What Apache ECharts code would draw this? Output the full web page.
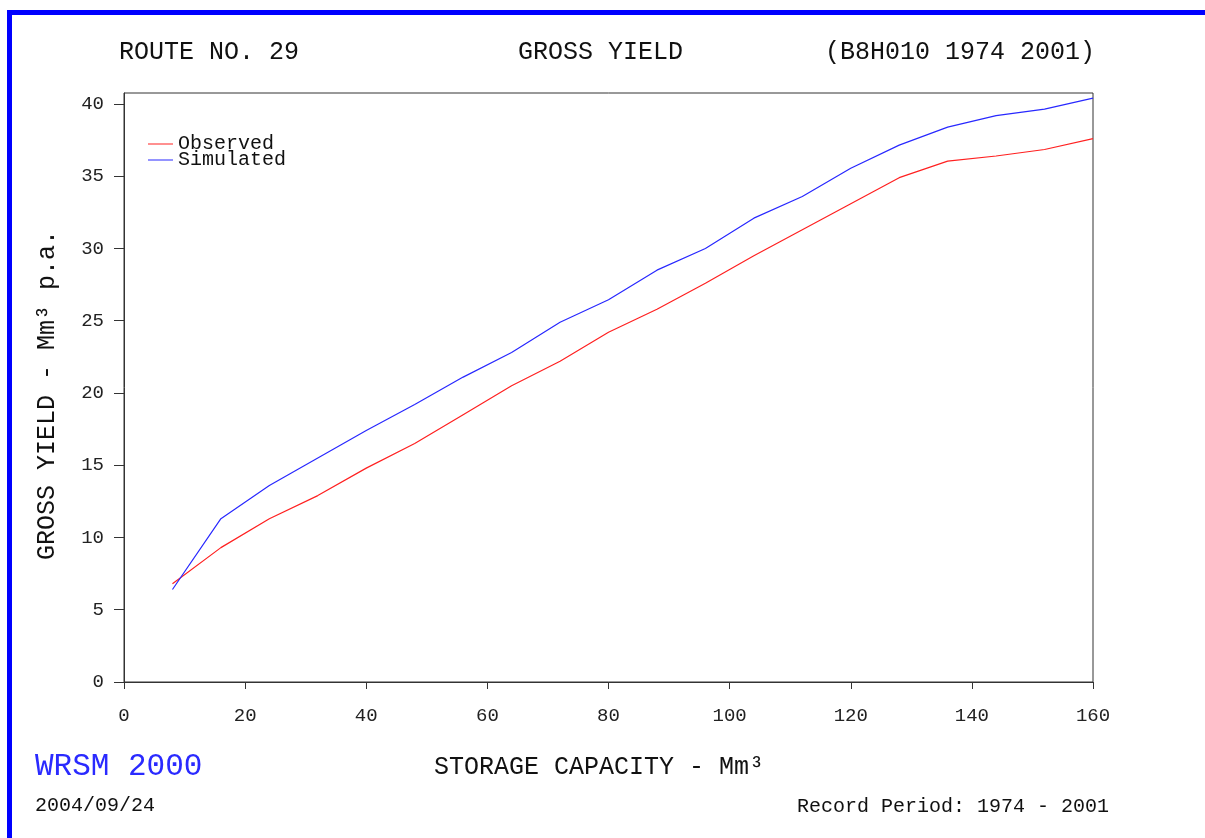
<!DOCTYPE html>
<html>
<head>
<meta charset="utf-8">
<script src="https://cdn.jsdelivr.net/npm/echarts@6/dist/echarts.min.js"></script>
<style>
html,body{margin:0;padding:0;background:#fff;}
#chart{width:1205px;height:838px;}
</style>
</head>
<body>
<div id="chart"></div>
<script>
// ---- data ----
const storage = [8, 16, 24, 32, 40, 48, 56, 64, 72, 80, 88, 96, 104, 112, 120, 128, 136, 144, 152, 160];
const observed = [6.8, 9.3, 11.3, 12.9, 14.8, 16.5, 18.5, 20.5, 22.2, 24.2, 25.8, 27.6, 29.5, 31.3, 33.1, 34.9, 36.05, 36.4, 36.85, 37.6];
const simulated = [6.4, 11.3, 13.6, 15.5, 17.4, 19.2, 21.1, 22.8, 24.9, 26.45, 28.5, 30.0, 32.1, 33.6, 35.55, 37.15, 38.4, 39.2, 39.65, 40.4];
const yTicks = [0, 5, 10, 15, 20, 25, 30, 35, 40];
const seriesNames = ['Observed', 'Simulated'];
const yMax = 40.76;

const FONT = '"Liberation Mono", "DejaVu Sans Mono", monospace';
const chart = echarts.init(document.getElementById('chart'), null, {renderer: 'canvas'});

const pair = (xs, ys) => xs.map((x, i) => [x, ys[i]]);

chart.setOption({
  backgroundColor: '#ffffff',
  animation: false,
  title: [
    {text: 'ROUTE NO. 29', left: 119, top: 40, padding: 0, textStyle: {fontFamily: FONT, fontSize: 25, fontWeight: 'normal', color: '#111'}},
    {text: 'GROSS YIELD', left: 518, top: 40, padding: 0, textStyle: {fontFamily: FONT, fontSize: 25, fontWeight: 'normal', color: '#111'}},
    {text: '(B8H010 1974 2001)', right: 110, top: 40, padding: 0, textStyle: {fontFamily: FONT, fontSize: 25, fontWeight: 'normal', color: '#111'}},
    {text: 'WRSM 2000', left: 35, top: 751, padding: 0, textStyle: {fontFamily: FONT, fontSize: 31, fontWeight: 'normal', color: '#2a2aff'}},
    {text: '2004/09/24', left: 35, top: 796, padding: 0, textStyle: {fontFamily: FONT, fontSize: 20, fontWeight: 'normal', color: '#111'}},
    {text: 'Record Period: 1974 - 2001', right: 96, top: 797, padding: 0, textStyle: {fontFamily: FONT, fontSize: 20, fontWeight: 'normal', color: '#111'}}
  ],
  legend: {
    orient: 'vertical',
    left: 148,
    top: 134,
    padding: 0,
    itemGap: -4,
    itemWidth: 25,
    itemHeight: 1,
    icon: 'rect',
    data: seriesNames,
    textStyle: {fontFamily: FONT, fontSize: 20, color: '#111', lineHeight: 17, padding: [0, 0, 0, 0]}
  },
  grid: {
    left: 124, right: 112, top: 93, bottom: 156,
    containLabel: false,
    outerBoundsMode: 'none',
    show: true,
    borderColor: '#333',
    borderWidth: 1,
    backgroundColor: 'transparent'
  },
  xAxis: {
    type: 'value',
    min: 0, max: 160, interval: 20,
    name: 'STORAGE CAPACITY - Mm³',
    nameLocation: 'middle',
    nameGap: 73,
    nameTextStyle: {fontFamily: FONT, fontSize: 25, color: '#111', padding: [0, 19, 0, 0]},
    axisLine: {show: true, lineStyle: {color: '#333', width: 1}},
    axisTick: {show: true, inside: false, length: 7, lineStyle: {color: '#333'}},
    axisLabel: {fontFamily: FONT, fontSize: 19, color: '#222', margin: 24},
    splitLine: {show: false}
  },
  yAxis: {
    type: 'value',
    min: 0, max: yMax,
    name: 'GROSS YIELD - Mm³ p.a.',
    nameLocation: 'middle',
    nameGap: 64,
    nameTextStyle: {fontFamily: FONT, fontSize: 25, color: '#111', padding: [0, 15, 0, 0]},
    axisLine: {show: true, lineStyle: {color: '#333', width: 1}},
    axisTick: {show: true, inside: false, length: 10, customValues: yTicks, lineStyle: {color: '#333'}},
    axisLabel: {fontFamily: FONT, fontSize: 19, color: '#222', margin: 20, customValues: yTicks},
    splitLine: {show: false}
  },
  series: [
    {
      name: seriesNames[0], type: 'line', data: pair(storage, observed),
      symbol: 'none', showSymbol: false, smooth: false,
      color: '#ff2020',
      lineStyle: {color: '#ff2020', width: 1.2}
    },
    {
      name: seriesNames[1], type: 'line', data: pair(storage, simulated),
      symbol: 'none', showSymbol: false, smooth: false,
      color: '#2828ff',
      lineStyle: {color: '#2828ff', width: 1.2}
    }
  ],
  graphic: [
    {type: 'rect', silent: true, shape: {x: 7, y: 10, width: 1198, height: 5}, style: {fill: '#0000ff'}},
    {type: 'rect', silent: true, shape: {x: 7, y: 10, width: 5, height: 828}, style: {fill: '#0000ff'}}
  ]
});
</script>
</body>
</html>
